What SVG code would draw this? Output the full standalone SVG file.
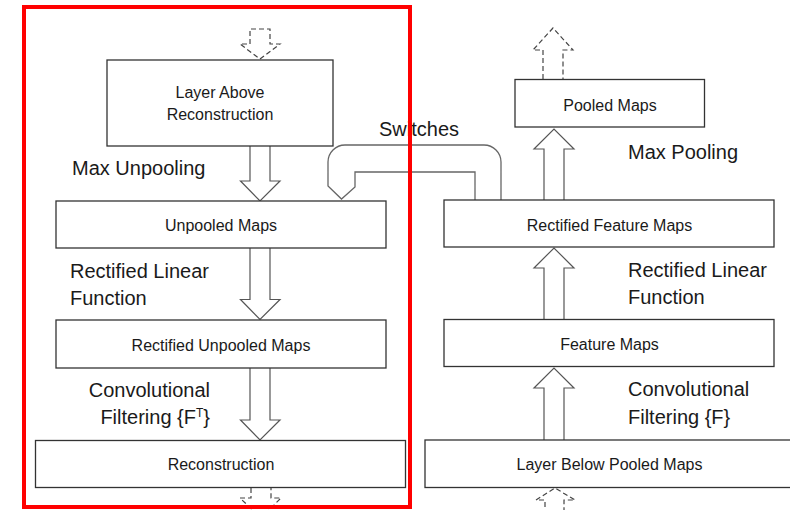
<svg xmlns="http://www.w3.org/2000/svg" width="790" height="510" viewBox="0 0 790 510">
<defs>
<style>
.box{fill:#fff;stroke:#333;stroke-width:1.3}
.bt{font-family:"Liberation Sans",Arial,sans-serif;font-size:16px;fill:#1a1a1a;text-anchor:middle}
.lbl{font-family:"Liberation Sans",Arial,sans-serif;font-size:20px;fill:#1a1a1a}
.arr{fill:#fff;stroke:#555;stroke-width:1.2;stroke-linejoin:miter}
.dash{fill:none;stroke:#444;stroke-width:1.2;stroke-dasharray:5,3}
.sw{fill:#fff;stroke:#666;stroke-width:1.3}
</style>
</defs>
<rect width="790" height="510" fill="#fff"/>

<g id="connectors">
  <!-- dashed arrows -->
  <path class="dash" d="M250,44 L250,29 L270,29 L270,44 L280,44 L260,59 L240,44 Z"/>
  <path class="dash" d="M251,488 L251,498 L240,498 L261,518 L281,498 L271,498 L271,488"/>
  <path class="dash" d="M543,79 L543,50 L533,50 L553,28 L573,50 L563,50 L563,79"/>
  <path class="dash" d="M545,515 L545,500 L536,500 L555,488 L575,500 L564,500 L564,515"/>
  <!-- left column arrows (down) -->
  <path class="arr" d="M250,146 L250,181 L240.5,181 L260,201 L280,181 L270,181 L270,146"/>
  <path class="arr" d="M250,248 L250,299.5 L240.5,299.5 L260,319.5 L280,299.5 L270,299.5 L270,248"/>
  <path class="arr" d="M250,368 L250,420 L240.5,420 L260,440 L280,420 L270,420 L270,368"/>
  <!-- right column arrows (up) -->
  <path class="arr" d="M544,440 L544,388 L534,388 L554,368 L574,388 L564,388 L564,440"/>
  <path class="arr" d="M544,320 L544,268 L534,268 L554,248 L574,268 L564,268 L564,320"/>
  <path class="arr" d="M544,200 L544,149 L534,149 L554,129 L574,149 L564,149 L564,200"/>
  <!-- switches connector -->
  <path class="sw" d="M501,200 L501,162 A17,17 0 0 0 484,145 L345,145 A17,17 0 0 0 328,162 L328,186 L341.5,199 L355,187 L355,172 L475,172 L475,200"/>
</g>

<g id="n-layer-above">
  <rect class="box" x="107" y="60" width="226" height="86"/>
  <text class="bt" x="220" y="98">Layer Above</text>
  <text class="bt" x="220" y="120">Reconstruction</text>
</g>
<g id="n-unpooled">
  <rect class="box" x="56" y="201" width="330" height="47"/>
  <text class="bt" x="221" y="231">Unpooled Maps</text>
</g>
<g id="n-rect-unpooled">
  <rect class="box" x="56" y="320" width="330" height="48"/>
  <text class="bt" x="221" y="350.5">Rectified Unpooled Maps</text>
</g>
<g id="n-reconstruction">
  <rect class="box" x="35.5" y="440.5" width="370" height="47"/>
  <text class="bt" x="221" y="470">Reconstruction</text>
</g>
<g id="n-pooled">
  <rect class="box" x="515" y="79.5" width="189.5" height="47.5"/>
  <text class="bt" x="610" y="111">Pooled Maps</text>
</g>
<g id="n-rect-feature">
  <rect class="box" x="444" y="200" width="330" height="47"/>
  <text class="bt" x="609.5" y="230.5">Rectified Feature Maps</text>
</g>
<g id="n-feature">
  <rect class="box" x="444" y="319.5" width="330" height="47"/>
  <text class="bt" x="609.5" y="350">Feature Maps</text>
</g>
<g id="n-layer-below">
  <rect class="box" x="425" y="440" width="369" height="47.5"/>
  <text class="bt" x="609.5" y="470">Layer Below Pooled Maps</text>
</g>

<g id="labels">
  <text class="lbl" x="379" y="136">Switches</text>
  <text class="lbl" x="72" y="175">Max Unpooling</text>
  <text class="lbl" x="70" y="278">Rectified Linear</text>
  <text class="lbl" x="70" y="305">Function</text>
  <text class="lbl" x="210" y="397" text-anchor="end">Convolutional</text>
  <text class="lbl" x="210" y="423.5" text-anchor="end">Filtering {F<tspan font-size="12" dy="-7">T</tspan><tspan dy="7">}</tspan></text>
  <text class="lbl" x="628" y="159">Max Pooling</text>
  <text class="lbl" x="628" y="277">Rectified Linear</text>
  <text class="lbl" x="628" y="304">Function</text>
  <text class="lbl" x="628" y="396">Convolutional</text>
  <text class="lbl" x="628" y="423.5">Filtering {F}</text>
</g>

<rect id="highlight" x="24" y="7" width="386" height="500" fill="none" stroke="#ff0000" stroke-width="4"/>
</svg>
